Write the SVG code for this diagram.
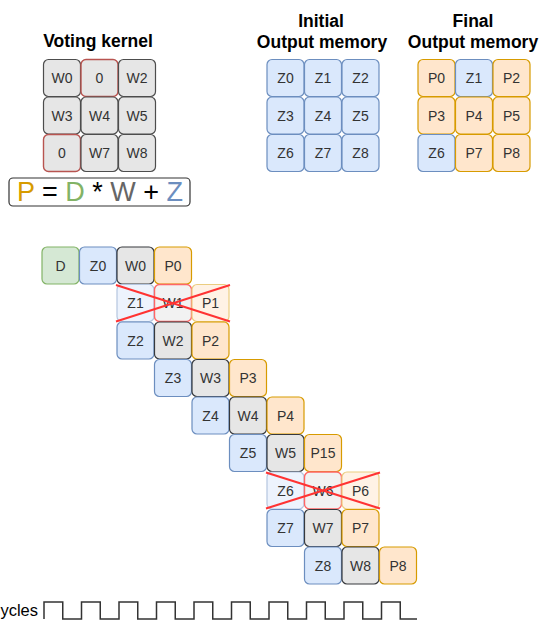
<svg xmlns="http://www.w3.org/2000/svg" width="540" height="622" viewBox="0 0 540 622">
<style>
text{font-family:"Liberation Sans",Arial,sans-serif;}
.t{font-size:14px;fill:#333333;text-anchor:middle;dominant-baseline:central;}
.h{font-size:17.5px;font-weight:bold;fill:#000;text-anchor:middle;}
.g rect{fill:#e6e6e6;stroke:#36393d;stroke-width:1.2;}
.gk rect{fill:#e6e6e6;stroke:#4d4d4d;stroke-width:1.2;}
.gz rect{fill:#e6e6e6;stroke:#b85450;stroke-width:1.4;}
.b rect{fill:#dae8fc;stroke:#6c8ebf;stroke-width:1.2;}
.o rect{fill:#ffe6cc;stroke:#d79b00;stroke-width:1.2;}
.gr rect{fill:#d5e8d4;stroke:#82b366;stroke-width:1.2;}
.fb rect{fill:#edf3fd;stroke:#b5c6df;stroke-width:1.2;}
.fg rect{fill:#f2f2f2;stroke:#ff6666;stroke-width:1.4;}
.fo rect{fill:#fff2e5;stroke:#ebcd80;stroke-width:1.2;}
.x{stroke:#ff3333;stroke-width:2;fill:none;}
</style>

<!-- Titles -->
<text class="h" x="98" y="47">Voting kernel</text>
<text class="h" x="321" y="27">Initial</text>
<text class="h" x="322" y="48">Output memory</text>
<text class="h" x="473" y="27">Final</text>
<text class="h" x="473" y="48">Output memory</text>

<!-- Voting kernel -->
<g id="kernel">
<g id="k-w0" class="gk"><rect x="43.5" y="59.5" width="37" height="37" rx="5"/><text class="t" x="62" y="78">W0</text></g>
<g id="k-0a" class="gz"><rect x="81" y="59.5" width="37" height="37" rx="5"/><text class="t" x="99.5" y="78">0</text></g>
<g id="k-w2" class="gk"><rect x="118.5" y="59.5" width="37" height="37" rx="5"/><text class="t" x="137" y="78">W2</text></g>
<g id="k-w3" class="gk"><rect x="43.5" y="97" width="37" height="37" rx="5"/><text class="t" x="62" y="115.5">W3</text></g>
<g id="k-w4" class="gk"><rect x="81" y="97" width="37" height="37" rx="5"/><text class="t" x="99.5" y="115.5">W4</text></g>
<g id="k-w5" class="gk"><rect x="118.5" y="97" width="37" height="37" rx="5"/><text class="t" x="137" y="115.5">W5</text></g>
<g id="k-0b" class="gz"><rect x="43.5" y="134.5" width="37" height="37" rx="5"/><text class="t" x="62" y="153">0</text></g>
<g id="k-w7" class="gk"><rect x="81" y="134.5" width="37" height="37" rx="5"/><text class="t" x="99.5" y="153">W7</text></g>
<g id="k-w8" class="gk"><rect x="118.5" y="134.5" width="37" height="37" rx="5"/><text class="t" x="137" y="153">W8</text></g>
</g>

<!-- Equation -->
<g id="equation">
<rect x="9" y="178" width="181" height="28" rx="4" fill="#ffffff" stroke="#333333" stroke-width="1.2"/>
<text x="100" y="201" font-size="27" text-anchor="middle"><tspan fill="#d79b00">P</tspan><tspan fill="#000"> = </tspan><tspan fill="#82b366">D</tspan><tspan fill="#000"> * </tspan><tspan fill="#666666">W</tspan><tspan fill="#000"> + </tspan><tspan fill="#6c8ebf">Z</tspan></text>
</g>

<!-- Initial output memory -->
<g id="initial">
<g id="i-z0" class="b"><rect x="267" y="59.5" width="37" height="37" rx="5"/><text class="t" x="285.5" y="78">Z0</text></g>
<g id="i-z1" class="b"><rect x="304.5" y="59.5" width="37" height="37" rx="5"/><text class="t" x="323" y="78">Z1</text></g>
<g id="i-z2" class="b"><rect x="342" y="59.5" width="37" height="37" rx="5"/><text class="t" x="360.5" y="78">Z2</text></g>
<g id="i-z3" class="b"><rect x="267" y="97" width="37" height="37" rx="5"/><text class="t" x="285.5" y="115.5">Z3</text></g>
<g id="i-z4" class="b"><rect x="304.5" y="97" width="37" height="37" rx="5"/><text class="t" x="323" y="115.5">Z4</text></g>
<g id="i-z5" class="b"><rect x="342" y="97" width="37" height="37" rx="5"/><text class="t" x="360.5" y="115.5">Z5</text></g>
<g id="i-z6" class="b"><rect x="267" y="134.5" width="37" height="37" rx="5"/><text class="t" x="285.5" y="153">Z6</text></g>
<g id="i-z7" class="b"><rect x="304.5" y="134.5" width="37" height="37" rx="5"/><text class="t" x="323" y="153">Z7</text></g>
<g id="i-z8" class="b"><rect x="342" y="134.5" width="37" height="37" rx="5"/><text class="t" x="360.5" y="153">Z8</text></g>
</g>

<!-- Final output memory -->
<g id="final">
<g id="f-p0" class="o"><rect x="418" y="59.5" width="37" height="37" rx="5"/><text class="t" x="436.5" y="78">P0</text></g>
<g id="f-z1" class="b"><rect x="455.5" y="59.5" width="37" height="37" rx="5"/><text class="t" x="474" y="78">Z1</text></g>
<g id="f-p2" class="o"><rect x="493" y="59.5" width="37" height="37" rx="5"/><text class="t" x="511.5" y="78">P2</text></g>
<g id="f-p3" class="o"><rect x="418" y="97" width="37" height="37" rx="5"/><text class="t" x="436.5" y="115.5">P3</text></g>
<g id="f-p4" class="o"><rect x="455.5" y="97" width="37" height="37" rx="5"/><text class="t" x="474" y="115.5">P4</text></g>
<g id="f-p5" class="o"><rect x="493" y="97" width="37" height="37" rx="5"/><text class="t" x="511.5" y="115.5">P5</text></g>
<g id="f-z6" class="b"><rect x="418" y="134.5" width="37" height="37" rx="5"/><text class="t" x="436.5" y="153">Z6</text></g>
<g id="f-p7" class="o"><rect x="455.5" y="134.5" width="37" height="37" rx="5"/><text class="t" x="474" y="153">P7</text></g>
<g id="f-p8" class="o"><rect x="493" y="134.5" width="37" height="37" rx="5"/><text class="t" x="511.5" y="153">P8</text></g>
</g>

<!-- Pipeline -->
<g id="pipeline">
<g id="p-d" class="gr"><rect x="42" y="247" width="37" height="37" rx="5"/><text class="t" x="60.5" y="265.5">D</text></g>
<g id="p-z0" class="b"><rect x="79.5" y="247" width="37" height="37" rx="5"/><text class="t" x="98" y="265.5">Z0</text></g>
<g id="p-w0" class="g"><rect x="117" y="247" width="37" height="37" rx="5"/><text class="t" x="135.5" y="265.5">W0</text></g>
<g id="p-p0" class="o"><rect x="154.5" y="247" width="37" height="37" rx="5"/><text class="t" x="173" y="265.5">P0</text></g>
<g id="p-z1" class="fb"><rect x="117" y="284.5" width="37" height="37" rx="5"/><text class="t" x="135.5" y="303">Z1</text></g>
<g id="p-w1" class="fg"><rect x="154.5" y="284.5" width="37" height="37" rx="5"/><text class="t" x="173" y="303">W1</text></g>
<g id="p-p1" class="fo"><rect x="192" y="284.5" width="37" height="37" rx="5"/><text class="t" x="210.5" y="303">P1</text></g>
<g id="p-z2" class="b"><rect x="117" y="322" width="37" height="37" rx="5"/><text class="t" x="135.5" y="340.5">Z2</text></g>
<g id="p-w2" class="g"><rect x="154.5" y="322" width="37" height="37" rx="5"/><text class="t" x="173" y="340.5">W2</text></g>
<g id="p-p2" class="o"><rect x="192" y="322" width="37" height="37" rx="5"/><text class="t" x="210.5" y="340.5">P2</text></g>
<g id="p-z3" class="b"><rect x="154.5" y="359.5" width="37" height="37" rx="5"/><text class="t" x="173" y="378">Z3</text></g>
<g id="p-w3" class="g"><rect x="192" y="359.5" width="37" height="37" rx="5"/><text class="t" x="210.5" y="378">W3</text></g>
<g id="p-p3" class="o"><rect x="229.5" y="359.5" width="37" height="37" rx="5"/><text class="t" x="248" y="378">P3</text></g>
<g id="p-z4" class="b"><rect x="192" y="397" width="37" height="37" rx="5"/><text class="t" x="210.5" y="415.5">Z4</text></g>
<g id="p-w4" class="g"><rect x="229.5" y="397" width="37" height="37" rx="5"/><text class="t" x="248" y="415.5">W4</text></g>
<g id="p-p4" class="o"><rect x="267" y="397" width="37" height="37" rx="5"/><text class="t" x="285.5" y="415.5">P4</text></g>
<g id="p-z5" class="b"><rect x="229.5" y="434.5" width="37" height="37" rx="5"/><text class="t" x="248" y="453">Z5</text></g>
<g id="p-w5" class="g"><rect x="267" y="434.5" width="37" height="37" rx="5"/><text class="t" x="285.5" y="453">W5</text></g>
<g id="p-p15" class="o"><rect x="304.5" y="434.5" width="37" height="37" rx="5"/><text class="t" x="323" y="453">P15</text></g>
<g id="p-z6" class="fb"><rect x="267" y="472" width="37" height="37" rx="5"/><text class="t" x="285.5" y="490.5">Z6</text></g>
<g id="p-w6" class="fg"><rect x="304.5" y="472" width="37" height="37" rx="5"/><text class="t" x="323" y="490.5">W6</text></g>
<g id="p-p6" class="fo"><rect x="342" y="472" width="37" height="37" rx="5"/><text class="t" x="360.5" y="490.5">P6</text></g>
<g id="p-z7" class="b"><rect x="267" y="509.5" width="37" height="37" rx="5"/><text class="t" x="285.5" y="528">Z7</text></g>
<g id="p-w7" class="g"><rect x="304.5" y="509.5" width="37" height="37" rx="5"/><text class="t" x="323" y="528">W7</text></g>
<g id="p-p7" class="o"><rect x="342" y="509.5" width="37" height="37" rx="5"/><text class="t" x="360.5" y="528">P7</text></g>
<g id="p-z8" class="b"><rect x="304.5" y="547" width="37" height="37" rx="5"/><text class="t" x="323" y="565.5">Z8</text></g>
<g id="p-w8" class="g"><rect x="342" y="547" width="37" height="37" rx="5"/><text class="t" x="360.5" y="565.5">W8</text></g>
<g id="p-p8" class="o"><rect x="379.5" y="547" width="37" height="37" rx="5"/><text class="t" x="398" y="565.5">P8</text></g>
</g>

<!-- Cross-outs -->
<g id="crosses">
<path class="x" d="M116,285 L230,321.5 M116,321.5 L230,285"/>
<path class="x" d="M266,472.5 L380,508.5 M266,508.5 L380,472.5"/>
</g>

<!-- Clock -->
<g id="clock">
<text x="38" y="616" font-size="16.5" text-anchor="end" fill="#000">Cycles</text>
<path fill="none" stroke="#333333" stroke-width="1.5" d="M44,619 V602 H62.75 V619 H81.5 V602 H100.25 V619 H119 V602 H137.75 V619 H156.5 V602 H175.25 V619 H194 V602 H212.75 V619 H231.5 V602 H250.25 V619 H269 V602 H287.75 V619 H306.5 V602 H325.25 V619 H344 V602 H362.75 V619 H381.5 V602 H400.25 V619 H417"/>
</g>
</svg>
